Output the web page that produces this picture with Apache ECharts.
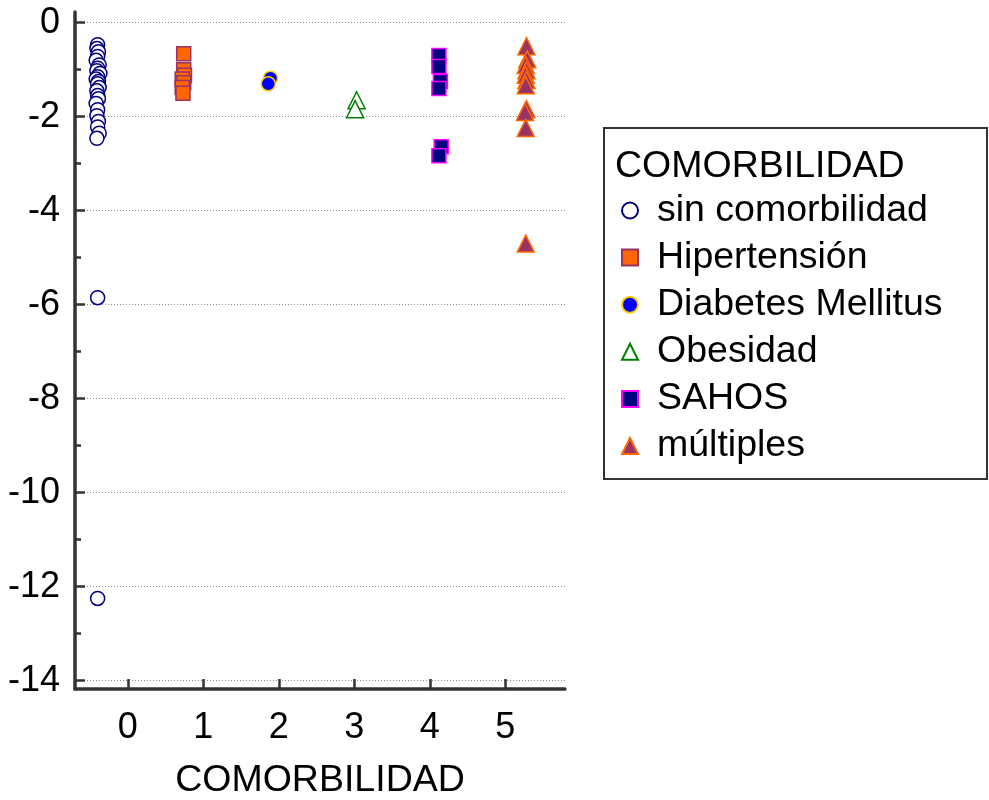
<!DOCTYPE html>
<html>
<head>
<meta charset="utf-8">
<script src="https://cdn.jsdelivr.net/npm/echarts@6/dist/echarts.min.js"></script>
<style>
  html, body { margin: 0; padding: 0; background: #fff; }
  #chart { width: 989px; height: 800px; }
</style>
</head>
<body>
<div id="chart"></div>
<script>
// Group labels and axis text
const groupNames = ['sin comorbilidad', 'Hipertensión', 'Diabetes Mellitus', 'Obesidad', 'SAHOS', 'múltiples'];
const xTicks = [0, 1, 2, 3, 4, 5];
const axisTitle = 'COMORBILIDAD';

// Points per group: horizontal position and value
const sinX = [-0.40, -0.41, -0.39, -0.40, -0.42, -0.38, -0.40, -0.41, -0.37, -0.40, -0.42, -0.39, -0.40, -0.38, -0.41, -0.40, -0.39, -0.42, -0.40, -0.41, -0.39, -0.40, -0.38, -0.41, -0.40, -0.40];
const sinY = [-0.47, -0.55, -0.62, -0.72, -0.80, -0.90, -0.97, -1.02, -1.08, -1.15, -1.20, -1.25, -1.30, -1.38, -1.45, -1.55, -1.62, -1.72, -1.85, -1.98, -2.10, -2.22, -2.35, -2.46, -5.85, -12.25];

const htaX = [0.74, 0.74, 0.75, 0.72, 0.74, 0.72, 0.73];
const htaY = [-0.66, -1.00, -1.12, -1.20, -1.28, -1.38, -1.50];

const dmX = [1.89, 1.86];
const dmY = [-1.18, -1.30];

const obeX = [3.03, 3.01];
const obeY = [-1.65, -1.84];

const sahosX = [4.12, 4.12, 4.14, 4.12, 4.15, 4.12];
const sahosY = [-0.70, -0.93, -1.25, -1.40, -2.64, -2.83];

const multX = [5.28, 5.29, 5.27, 5.28, 5.27, 5.28, 5.27, 5.28, 5.26, 5.27, 5.27];
const multY = [-0.50, -0.78, -0.90, -1.01, -1.11, -1.22, -1.33, -1.84, -1.90, -2.24, -4.70];

const yMin = -14, yMax = 0, yStep = 2;
const xMin = -0.70, xMax = 5.79;

const pairs = (xs, ys) => xs.map((x, i) => [x, ys[i]]);

const font = '"Liberation Sans", Arial, sans-serif';
const axisColor = '#333333';

const styles = [
  { symbol: 'circle',   size: 14, itemStyle: { color: '#ffffff', borderColor: '#000080', borderWidth: 1.5, opacity: 1 } },
  { symbol: 'rect',     size: 14, itemStyle: { color: '#ff6600', borderColor: '#993366', borderWidth: 1.5, opacity: 1 } },
  { symbol: 'circle',   size: 14, itemStyle: { color: '#0000ff', borderColor: '#ffcc00', borderWidth: 1.5, opacity: 1 } },
  { symbol: 'triangle', size: 17, itemStyle: { color: '#ffffff', borderColor: '#008000', borderWidth: 1.5, opacity: 1 } },
  { symbol: 'rect',     size: 14, itemStyle: { color: '#000080', borderColor: '#ff00ff', borderWidth: 1.5, opacity: 1 } },
  { symbol: 'triangle', size: 17, itemStyle: { color: '#993366', borderColor: '#ff6600', borderWidth: 1.5, opacity: 1 } }
];
const groupData = [pairs(sinX, sinY), pairs(htaX, htaY), pairs(dmX, dmY), pairs(obeX, obeY), pairs(sahosX, sahosY), pairs(multX, multY)];

const series = groupNames.map((name, i) => ({
  name: name,
  type: 'scatter',
  xAxisIndex: 0,
  yAxisIndex: 0,
  symbol: styles[i].symbol,
  symbolSize: styles[i].size,
  itemStyle: styles[i].itemStyle,
  emphasis: { disabled: true },
  data: groupData[i]
}));

const chart = echarts.init(document.getElementById('chart'), null, { renderer: 'canvas' });
chart.setOption({
  animation: false,
  backgroundColor: '#ffffff',
  grid: [
    // plotting area, spans exactly 0 .. -14
    { left: 75, right: 424, top: 22.7, bottom: 119.3, outerBoundsMode: 'none', containLabel: false },
    // frame for the axis lines, slightly taller
    { left: 75, right: 424, top: 12, bottom: 111, outerBoundsMode: 'none', containLabel: false }
  ],
  xAxis: [
    { type: 'value', gridIndex: 0, min: xMin, max: xMax, show: false },
    {
      type: 'value', gridIndex: 1, min: xMin, max: xMax,
      axisLine: { show: true, onZero: false, lineStyle: { color: axisColor, width: 3.5 } },
      axisTick: { show: true, inside: true, length: 10, customValues: xTicks, lineStyle: { color: axisColor, width: 2.5 } },
      axisLabel: { show: true, customValues: xTicks, margin: 21, color: '#000', fontSize: 36, fontFamily: font },
      splitLine: { show: false },
      name: axisTitle, nameLocation: 'middle', nameGap: 73,
      nameTextStyle: { color: '#000', fontSize: 37.5, fontFamily: font }
    }
  ],
  yAxis: [
    {
      type: 'value', gridIndex: 0, min: yMin, max: yMax, interval: yStep,
      axisLine: { show: false, onZero: false },
      axisTick: { show: true, inside: true, length: 10, lineStyle: { color: axisColor, width: 2.5 } },
      minorTick: { show: true, splitNumber: 2, length: 6, lineStyle: { color: axisColor, width: 2.5 } },
      axisLabel: { margin: 15, color: '#000', fontSize: 36, fontFamily: font },
      splitLine: { show: true, lineStyle: { color: '#8c8c8c', width: 1, type: [1, 2] } }
    },
    {
      type: 'value', gridIndex: 1, min: yMin, max: yMax,
      axisLine: { show: true, onZero: false, lineStyle: { color: axisColor, width: 3.5 } },
      axisTick: { show: false }, axisLabel: { show: false }, splitLine: { show: false }
    }
  ],
  legend: {
    orient: 'vertical',
    left: 621, top: 190.5,
    padding: 0,
    itemWidth: 16, itemHeight: 16,
    itemGap: 7.1,
    selectedMode: false,
    textStyle: { color: '#000', fontSize: 37.5, fontFamily: font, lineHeight: 40, padding: [0, 0, 0, 14] },
    data: groupNames
  },
  graphic: [
    {
      type: 'rect', left: 603, top: 127, z: -1,
      shape: { width: 383, height: 351 },
      style: { fill: '#ffffff', stroke: axisColor, lineWidth: 2 }
    },
    {
      type: 'text', left: 615, top: 148,
      style: { text: axisTitle, fill: '#000', font: '37.5px ' + font }
    }
  ],
  series: series
});
</script>
</body>
</html>
